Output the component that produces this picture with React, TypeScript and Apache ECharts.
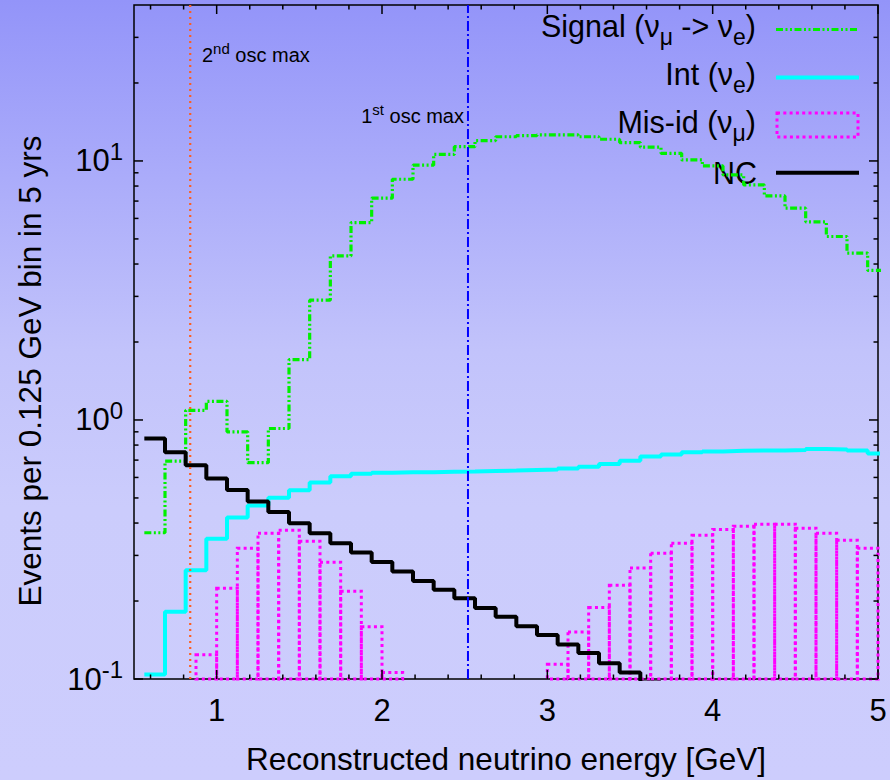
import React, { useEffect, useRef } from "react";
import * as echarts from "echarts";

const FONT = "'Liberation Sans', Arial, Helvetica, sans-serif";

// Energy bin centres (GeV), bin width 0.125 GeV
const binCenters = [
  0.625, 0.75, 0.875, 1.0, 1.125, 1.25, 1.375, 1.5, 1.625, 1.75, 1.875, 2.0,
  2.125, 2.25, 2.375, 2.5, 2.625, 2.75, 2.875, 3.0, 3.125, 3.25, 3.375, 3.5,
  3.625, 3.75, 3.875, 4.0, 4.125, 4.25, 4.375, 4.5, 4.625, 4.75, 4.875, 5.0,
];
const BIN_W = 0.125;

// Signal (nu_mu -> nu_e)
const signalEvents = [
  0.367, 0.694, 1.09, 1.18, 0.9, 0.684, 0.927, 1.71, 2.9, 4.3, 5.78, 7.18,
  8.5, 9.63, 10.6, 11.35, 11.97, 12.4, 12.52, 12.6, 12.6, 12.4, 12.13, 11.77,
  11.3, 10.7, 10.09, 9.57, 8.83, 8.08, 7.33, 6.57, 5.82, 5.11, 4.41, 3.78,
];
// Intrinsic (nu_e)
const intEvents = [
  0.104, 0.182, 0.263, 0.348, 0.42, 0.468, 0.501, 0.535, 0.573, 0.607, 0.62, 0.626,
  0.628, 0.629, 0.631, 0.633, 0.636, 0.638, 0.641, 0.644, 0.649, 0.66, 0.676, 0.696,
  0.722, 0.736, 0.751, 0.756, 0.76, 0.762, 0.763, 0.766, 0.772, 0.77, 0.762, 0.743,
];
// NC (first 25 bins; later bins fall below the axis)
const ncEvents = [
  0.849, 0.751, 0.668, 0.595, 0.537, 0.484, 0.441, 0.399, 0.365, 0.334, 0.308, 0.283,
  0.26, 0.239, 0.221, 0.205, 0.188, 0.174, 0.16, 0.148, 0.136, 0.126, 0.115, 0.106,
  0.097,
];
// Mis-id (nu_mu), drawn as boxes
const misidCenters = [
  0.9375, 1.0625, 1.1875, 1.3125, 1.4375, 1.5625, 1.6875, 1.8125, 1.9375, 2.0625,
  3.0625, 3.1875, 3.3125, 3.4375, 3.5625, 3.6875, 3.8125, 3.9375, 4.0625, 4.1875,
  4.3125, 4.4375, 4.5625, 4.6875, 4.8125, 4.9375,
];
const misidEvents = [
  0.124, 0.224, 0.32, 0.365, 0.375, 0.34, 0.282, 0.218, 0.159, 0.106,
  0.114, 0.152, 0.189, 0.23, 0.268, 0.306, 0.334, 0.359, 0.378, 0.389,
  0.396, 0.396, 0.382, 0.365, 0.343, 0.32,
];

// Oscillation maxima (GeV)
const firstOscMax = 2.52;
const secondOscMax = 0.84;

// Axis ranges and ticks
const X_MIN = 0.5;
const X_MAX = 5;
const Y_MIN = 0.1;
const Y_MAX = 40;
const xMajorTicks = [1, 2, 3, 4, 5];
const xMinorTicks = [
  0.6, 0.8, 1.2, 1.4, 1.6, 1.8, 2.2, 2.4, 2.6, 2.8, 3.2, 3.4, 3.6, 3.8, 4.2, 4.4, 4.6, 4.8,
];
const yMajorTicks = [0.1, 1, 10];
const yMajorExponents = ["-1", "0", "1"];
const yMinorTicks = [
  0.2, 0.3, 0.4, 0.5, 0.6, 0.7, 0.8, 0.9, 2, 3, 4, 5, 6, 7, 8, 9, 20, 30,
];

const GREEN = "#00f000";
const CYAN = "#00ffff";
const MAGENTA = "#ff00ff";
const ORANGE = "#ff5f1f";
const BLUE = "#0000ff";

const SIGNAL_DASH = [7, 2.5, 2, 2.5, 2, 2.5];
const MISID_DASH = [3, 3.3];

function stepData(centers: number[], values: number[]) {
  const pts = values.map((v, i) => [centers[i] - BIN_W / 2, v]);
  const n = values.length;
  pts.push([centers[n - 1] + BIN_W / 2, values[n - 1]]);
  return pts;
}

const mainTok = { fontSize: 30.5, fontFamily: FONT, fill: "#000", color: "#000", lineHeight: 30 };
const subTok = {
  fontSize: 23,
  fontFamily: FONT,
  fill: "#000",
  color: "#000",
  height: 8,
  lineHeight: 8,
  verticalAlign: "bottom",
};
const oscMain = { fontSize: 20, fontFamily: FONT, fill: "#000", lineHeight: 20 };
const oscSup = { fontSize: 15, fontFamily: FONT, fill: "#000", height: 6, lineHeight: 6, verticalAlign: "top" };
const yLabMain = { fontSize: 31, fontFamily: FONT, fill: "#000", lineHeight: 30 };
const yLabSup = { fontSize: 24, fontFamily: FONT, fill: "#000", height: 11, lineHeight: 11, verticalAlign: "top" };

export default function App() {
  const ref = useRef<HTMLDivElement>(null);

  useEffect(() => {
    if (!ref.current) return;
    const chart = echarts.init(ref.current, undefined, { renderer: "svg" });

    // [x, y, major, isYAxis, labelIndex]
    const tickData: number[][] = [];
    xMajorTicks.forEach((v) => tickData.push([v, Y_MIN, 1, 0, -1]));
    xMinorTicks.forEach((v) => tickData.push([v, Y_MIN, 0, 0, -1]));
    yMajorTicks.forEach((v, i) => tickData.push([X_MIN, v, 1, 1, i]));
    yMinorTicks.forEach((v) => tickData.push([X_MIN, v, 0, 1, -1]));

    const option: any = {
      animation: false,
      backgroundColor: "transparent",
      grid: {
        left: 134,
        right: 12,
        top: 5,
        bottom: 99,
        show: true,
        borderColor: "#000",
        borderWidth: 1.5,
        backgroundColor: "transparent",
      },
      xAxis: {
        type: "value",
        min: X_MIN,
        max: X_MAX,
        interval: 0.5,
        axisLine: { show: false },
        axisTick: { show: false },
        splitLine: { show: false },
        axisLabel: {
          margin: 16,
          fontSize: 31,
          fontFamily: FONT,
          color: "#000",
          formatter: (v: number) =>
            Math.abs(v - Math.round(v)) < 1e-9 ? String(Math.round(v)) : "",
        },
        name: "Reconstructed neutrino energy [GeV]",
        nameLocation: "middle",
        nameGap: 64,
        nameTextStyle: { fontSize: 31.5, fontFamily: FONT, color: "#000" },
      },
      yAxis: {
        type: "log",
        logBase: 10,
        min: Y_MIN,
        max: Y_MAX,
        axisLine: { show: false },
        axisTick: { show: false },
        splitLine: { show: false },
        axisLabel: { show: false },
      },
      series: [
        {
          name: "Signal",
          type: "line",
          step: "end",
          data: stepData(binCenters, signalEvents),
          showSymbol: false,
          symbol: "none",
          lineStyle: { color: GREEN, width: 3.2, type: SIGNAL_DASH },
          z: 2,
        },
        {
          name: "Int",
          type: "line",
          step: "end",
          data: stepData(binCenters, intEvents),
          showSymbol: false,
          symbol: "none",
          lineStyle: { color: CYAN, width: 4 },
          z: 3,
        },
        {
          name: "Mis-id",
          type: "custom",
          data: misidCenters.map((c, i) => [c, misidEvents[i]]),
          encode: { x: 0, y: 1 },
          renderItem: (params: any, api: any) => {
            const c = api.value(0);
            const v = api.value(1);
            const p0 = api.coord([c - BIN_W / 2, Y_MIN]);
            const p1 = api.coord([c + BIN_W / 2, v]);
            return {
              type: "rect",
              shape: { x: p0[0], y: p1[1], width: p1[0] - p0[0], height: p0[1] - p1[1] },
              style: { fill: "none", stroke: MAGENTA, lineWidth: 3, lineDash: MISID_DASH },
            };
          },
          z: 4,
        },
        {
          name: "NC",
          type: "line",
          step: "end",
          data: stepData(binCenters, ncEvents),
          showSymbol: false,
          symbol: "none",
          lineStyle: { color: "#000", width: 4 },
          z: 5,
        },
        {
          name: "2nd osc max",
          type: "line",
          data: [
            [secondOscMax, Y_MIN],
            [secondOscMax, Y_MAX],
          ],
          showSymbol: false,
          symbol: "none",
          lineStyle: { color: ORANGE, width: 2.2, type: [2, 4] },
          z: 6,
        },
        {
          name: "1st osc max",
          type: "line",
          data: [
            [firstOscMax, Y_MIN],
            [firstOscMax, Y_MAX],
          ],
          showSymbol: false,
          symbol: "none",
          lineStyle: { color: BLUE, width: 2, type: [10, 3, 2, 3] },
          z: 6,
        },
        {
          name: "ticks",
          type: "custom",
          data: tickData,
          encode: { x: 0, y: 1 },
          silent: true,
          renderItem: (params: any, api: any) => {
            const isMajor = api.value(2) === 1;
            const isY = api.value(3) === 1;
            const labelIdx = api.value(4);
            const len = isMajor ? 9 : 4.5;
            const st = { stroke: "#000", lineWidth: 1.5 };
            if (isY) {
              const v = api.value(1);
              const pl = api.coord([X_MIN, v]);
              const pr = api.coord([X_MAX, v]);
              const children: any[] = [
                { type: "line", shape: { x1: pl[0], y1: pl[1], x2: pl[0] + len, y2: pl[1] }, style: st },
                { type: "line", shape: { x1: pr[0], y1: pr[1], x2: pr[0] - len, y2: pr[1] }, style: st },
              ];
              if (labelIdx >= 0) {
                children.push({
                  type: "text",
                  x: pl[0] - 11,
                  y: pl[1],
                  style: {
                    text: "{b|10}{p|" + yMajorExponents[labelIdx] + "}",
                    fill: "#000",
                    align: "right",
                    verticalAlign: "middle",
                    rich: { b: yLabMain, p: yLabSup },
                  },
                });
              }
              return { type: "group", children };
            }
            const x = api.value(0);
            const pb = api.coord([x, Y_MIN]);
            const pt = api.coord([x, Y_MAX]);
            return {
              type: "group",
              children: [
                { type: "line", shape: { x1: pb[0], y1: pb[1], x2: pb[0], y2: pb[1] - len }, style: st },
                { type: "line", shape: { x1: pt[0], y1: pt[1], x2: pt[0], y2: pt[1] + len }, style: st },
              ],
            };
          },
          z: 7,
        },
      ],
      graphic: [
        {
          type: "text",
          x: 30,
          y: 371,
          rotation: Math.PI / 2,
          style: {
            text: "Events per 0.125 GeV bin in 5 yrs",
            fontSize: 31.5,
            fontFamily: FONT,
            fill: "#000",
            align: "center",
            verticalAlign: "middle",
          },
        },
        {
          type: "text",
          x: 202,
          y: 55,
          style: {
            text: "{m|2}{s|nd}{m| osc max}",
            fill: "#000",
            align: "left",
            verticalAlign: "middle",
            rich: { m: oscMain, s: oscSup },
          },
        },
        {
          type: "text",
          x: 464,
          y: 116,
          style: {
            text: "{m|1}{s|st}{m| osc max}",
            fill: "#000",
            align: "right",
            verticalAlign: "middle",
            rich: { m: oscMain, s: oscSup },
          },
        },
        // legend
        {
          type: "text",
          x: 756,
          y: 25.5,
          style: {
            text: "{m|Signal (ν}{s|μ}{m| -> ν}{s|e}{m|)}",
            fill: "#000",
            align: "right",
            verticalAlign: "middle",
            rich: { m: mainTok, s: subTok },
          },
        },
        {
          type: "line",
          shape: { x1: 776, y1: 29.5, x2: 859, y2: 29.5 },
          style: { stroke: GREEN, lineWidth: 3.2, lineDash: SIGNAL_DASH },
        },
        {
          type: "text",
          x: 756,
          y: 73.5,
          style: {
            text: "{m|Int (ν}{s|e}{m|)}",
            fill: "#000",
            align: "right",
            verticalAlign: "middle",
            rich: { m: mainTok, s: subTok },
          },
        },
        {
          type: "line",
          shape: { x1: 776, y1: 77.5, x2: 859, y2: 77.5 },
          style: { stroke: CYAN, lineWidth: 4 },
        },
        {
          type: "text",
          x: 756,
          y: 121.5,
          style: {
            text: "{m|Mis-id (ν}{s|μ}{m|)}",
            fill: "#000",
            align: "right",
            verticalAlign: "middle",
            rich: { m: mainTok, s: subTok },
          },
        },
        {
          type: "rect",
          shape: { x: 777, y: 113, width: 81, height: 24 },
          style: { fill: "none", stroke: MAGENTA, lineWidth: 3, lineDash: MISID_DASH },
        },
        {
          type: "text",
          x: 757,
          y: 173.3,
          style: {
            text: "{m|NC}",
            fill: "#000",
            align: "right",
            verticalAlign: "middle",
            rich: { m: mainTok },
          },
        },
        {
          type: "line",
          shape: { x1: 776, y1: 172.7, x2: 859, y2: 172.7 },
          style: { stroke: "#000", lineWidth: 4 },
        },
      ],
    };

    chart.setOption(option);
    return () => chart.dispose();
  }, []);

  return (
    <div
      ref={ref}
      style={{
        position: "fixed",
        left: 0,
        top: 0,
        width: 890,
        height: 780,
        background:
          "linear-gradient(to bottom, #9394f9 0%, #c2c3fb 45%, #cbccfc 65%, #cdcdfd 100%)",
      }}
    />
  );
}
